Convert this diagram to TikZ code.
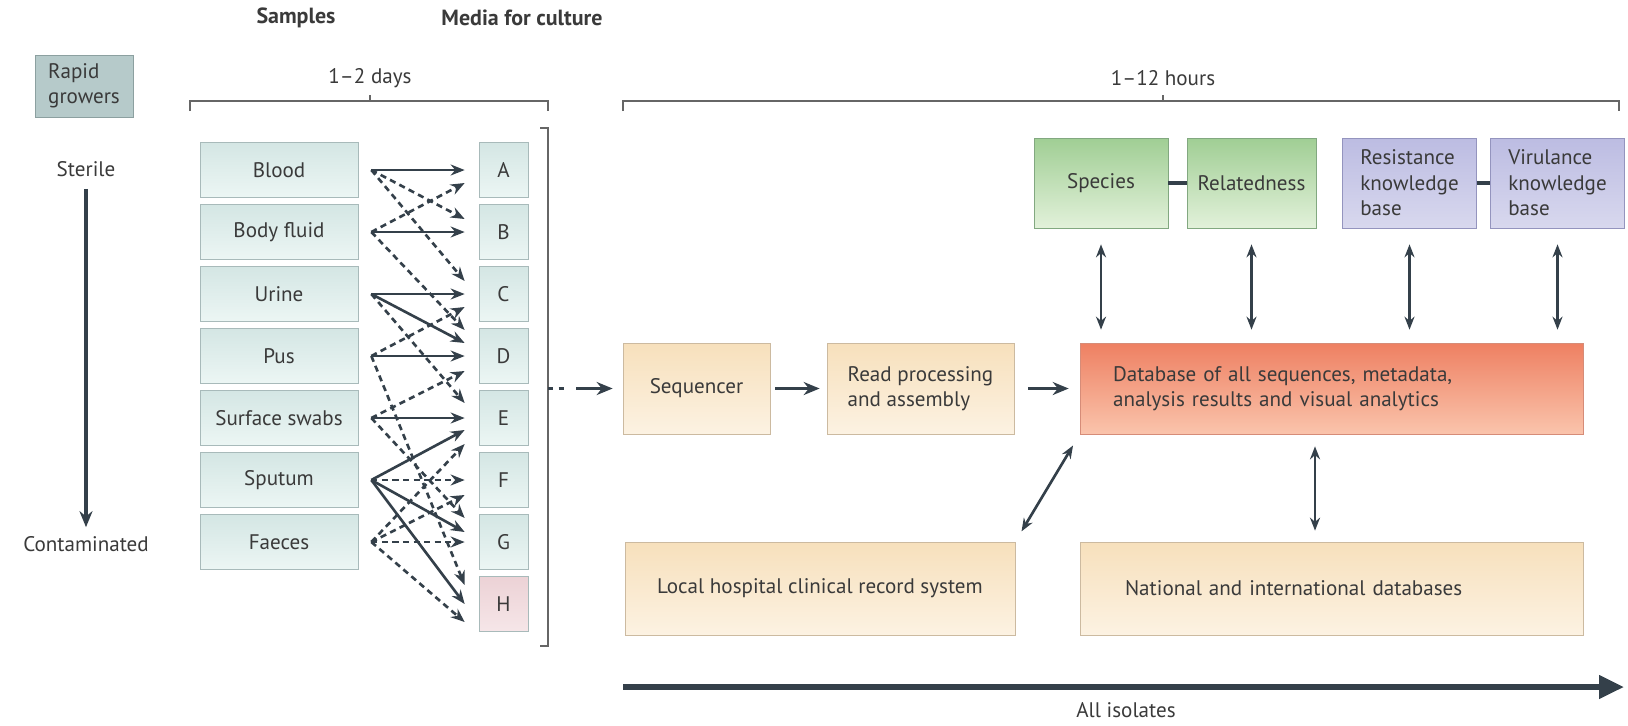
\documentclass[tikz,border=0pt]{standalone}
\usepackage{fontspec}
\setmainfont{PT Sans}
\usetikzlibrary{arrows.meta,calc}

\definecolor{ink}{RGB}{52,64,74}
\definecolor{txtgrey}{RGB}{58,58,58}
\definecolor{sampletop}{RGB}{212,230,228}
\definecolor{samplebot}{RGB}{236,246,244}
\definecolor{sampleline}{RGB}{168,186,186}
\definecolor{hmtop}{RGB}{236,210,214}
\definecolor{hmbot}{RGB}{246,230,232}
\definecolor{rapidfill}{RGB}{182,202,202}
\definecolor{rapidline}{RGB}{140,160,160}
\definecolor{beigetop}{RGB}{247,224,188}
\definecolor{beigebot}{RGB}{252,242,226}
\definecolor{beigeline}{RGB}{204,186,160}
\definecolor{dbtop}{RGB}{238,128,98}
\definecolor{dbbot}{RGB}{250,196,172}
\definecolor{dbline}{RGB}{214,140,120}
\definecolor{greentop}{RGB}{160,206,148}
\definecolor{greenbot}{RGB}{226,241,218}
\definecolor{greenline}{RGB}{130,168,128}
\definecolor{purpletop}{RGB}{188,188,226}
\definecolor{purplebot}{RGB}{216,216,238}
\definecolor{purpleline}{RGB}{148,148,190}

\tikzset{
  head/.style={font=\fontsize{12.5}{15}\selectfont\bfseries},
  rapidbox/.style={draw=rapidline, fill=rapidfill, align=left, minimum width=1.96cm, minimum height=1.24cm},
  samplebox/.style={draw=sampleline, top color=sampletop, bottom color=samplebot, minimum width=3.16cm, minimum height=1.1cm},
  mediabox/.style={samplebox, minimum width=0.98cm},
  flowbox/.style={draw=beigeline, top color=beigetop, bottom color=beigebot, minimum height=1.82cm},
  dbbox/.style={draw=dbline, top color=dbtop, bottom color=dbbot, minimum height=1.82cm, minimum width=10.06cm, inner xsep=0.66cm, text width=8.74cm, align=left},
  greenbox/.style={draw=greenline, top color=greentop, bottom color=greenbot, minimum height=1.8cm, minimum width=2.68cm},
  purplebox/.style={draw=purpleline, top color=purpletop, bottom color=purplebot, minimum height=1.8cm, minimum width=2.68cm, align=left},
  linkarr/.style={ink, line width=1.5pt, -{Stealth[length=2.8mm,width=2.2mm]}},
  maybearr/.style={linkarr, dash pattern=on 3.5pt off 2.5pt},
  flowarr/.style={ink, line width=1.7pt, -{Stealth[length=3.2mm,width=2.6mm]}},
  dblarr/.style={ink, line width=1.5pt, {Stealth[length=2.6mm,width=2mm]}-{Stealth[length=2.6mm,width=2mm]}},
  brace/.style={draw=black!60, line width=1pt},
}

\begin{document}
\begin{tikzpicture}[x=0.02cm, y=-0.02cm, font=\fontsize{12}{14.5}\selectfont, text=txtgrey]
\useasboundingbox (0,0) rectangle (1628,725);

\node[head] (samples) at (296,18) {Samples};
\node[head] (media) at (522,18) {Media for culture};
\node[rapidbox] (rapid) at (84,86) {Rapid\\growers};

\node (sterile) at (86,169) {Sterile};
\node (contam) at (86,544) {Contaminated};
\draw[ink, line width=2pt, -{Stealth[length=3.2mm,width=2.6mm]}, shorten <=0.12cm, shorten >=0.06cm] (sterile) -- (contam);

\draw[brace] (190,111) -- (190,101) -- (548,101) -- (548,111);
\draw[brace] (370,101) -- (370,95);
\node (days) at (370,78) {1--2 days};
\draw[brace] (623,111) -- (623,101) -- (1619,101) -- (1619,111);
\draw[brace] (1163,101) -- (1163,95);
\node (hours) at (1163,78) {1--12 hours};

\foreach \s [count=\i] in {Blood,Body fluid,Urine,Pus,Surface swabs,Sputum,Faeces}
  \node[samplebox] (s\i) at (279,{108+62*\i}) {\s};
\foreach \m [count=\i] in {A,B,C,D,E,F,G}
  \node[mediabox] (m\i) at (503.5,{108+62*\i}) {\m};
\node[mediabox, top color=hmtop, bottom color=hmbot] (m8) at (503.5,604) {H};

\foreach \a/\b/\o in {1/1/0,2/2/0,3/3/0,3/4/-13,4/4/0,5/5/0,6/5/12,6/7/-10,6/8/0}
  \draw[linkarr] ($(s\a.east)+(13,0)$) -- ($(m\b.west)+(-14,\o)$);
\foreach \a/\b/\o in {1/2/-13,1/3/-13,2/1/13,2/4/-26,3/5/-15,4/3/13,4/8/-19,5/4/15,5/7/-24,6/6/0,7/5/26,7/6/15,7/7/0,7/8/18}
  \draw[maybearr] ($(s\a.east)+(13,0)$) -- ($(m\b.west)+(-14,\o)$);

\draw[brace] (540,128) -- (548,128) -- (548,646) -- (540,646);
\coordinate (brkout) at (548,388.5);
\coordinate (seqin) at (576,388.5);
\draw[ink, line width=1.4pt, dashed] (brkout) -- ++(20,0);

\node[flowbox, minimum width=2.94cm] (seq) at (696.5,388.5) {Sequencer};
\node[flowbox, minimum width=3.74cm, align=left] (read) at (920.5,388.5) {Read processing\\and assembly};
\node[dbbox] (db) at (1331.5,388.5) {Database of all sequences, metadata,\\analysis results and visual analytics};
\draw[flowarr, shorten >=0.2cm] (seqin) -- (seq);
\draw[flowarr, shorten <=0.1cm, shorten >=0.14cm] (seq) -- (read);
\draw[flowarr, shorten <=0.28cm, shorten >=0.22cm] (read) -- (db);

\node[greenbox] (species) at (1101,183) {Species};
\node[greenbox, minimum width=2.58cm] (relat) at (1251.5,183) {Relatedness};
\node[purplebox] (resist) at (1409.5,183) {Resistance\\knowledge\\base};
\node[purplebox] (viru) at (1557.5,183) {Virulance\\knowledge\\base};
\draw[ink, line width=2pt] (species) -- (relat);
\draw[ink, line width=2pt] (resist) -- (viru);
\foreach \n in {species,relat,resist,viru}
  \draw[dblarr, shorten <=0.32cm, shorten >=0.26cm] (\n.south) -- (\n.south |- db.north);

\node[flowbox, minimum width=7.8cm, minimum height=1.86cm] (local) at (820,588.5) {Local hospital clinical record system};
\node[flowbox, minimum width=10.06cm, minimum height=1.86cm, inner xsep=0.9cm, text width=8.26cm, align=left] (national) at (1331.5,588.5) {National and international databases};
\draw[dblarr, shorten <=0.24cm, shorten >=0.26cm] (local.north east) -- (db.south west);
\draw[dblarr, shorten <=0.24cm, shorten >=0.22cm] ([xshift=-0.33cm]db.south) -- ([xshift=-0.33cm]national.north);

\coordinate (isofrom) at (623,687);
\coordinate (isoto) at (1624,687);
\draw[ink, line width=3.2pt, -{Triangle[length=5mm,width=4.5mm]}] (isofrom) -- (isoto);
\node (allisol) at (1126,710) {All isolates};
\end{tikzpicture}
\end{document}
